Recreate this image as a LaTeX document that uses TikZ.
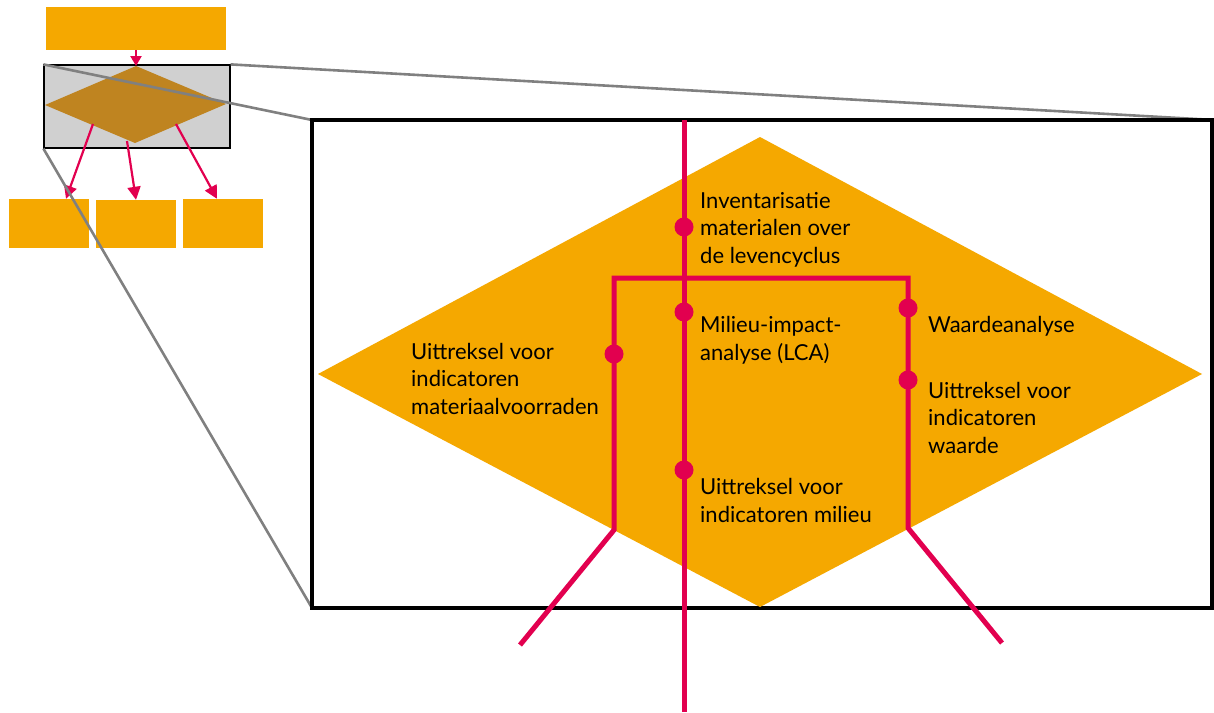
\documentclass[tikz,border=0pt]{standalone}
\usepackage{fontspec}
\setmainfont{Lato}
\usetikzlibrary{arrows.meta}
\definecolor{amber}{HTML}{F5A800}
\definecolor{crimson}{HTML}{E2004F}
\definecolor{bronze}{HTML}{BF8420}
\definecolor{paleg}{HTML}{D0D0D0}
\definecolor{zoomg}{HTML}{808080}
\tikzset{
  block/.style={fill=amber, draw=none, inner sep=0pt},
  flow/.style={crimson, line width=2.2pt, -{Triangle[width=13pt,length=13pt]}},
  track/.style={crimson, line width=5pt},
  stop/.style={circle, fill=crimson, inner sep=0pt, minimum size=19pt},
  zoomline/.style={zoomg, line width=2.6pt},
  % labels are anchored on the baseline of their last line
  lbl/.style={anchor=base west, inner sep=0pt, align=left, font=\fontsize{22}{27.5}\selectfont},
}
\begin{document}
\begin{tikzpicture}[x=1pt, y=-1pt]
\useasboundingbox (0,0) rectangle (1214,712);

% overview: small flow chart
\node[block, minimum width=180pt, minimum height=43pt] (topbox) at (136,28.5) {};
\node[fill=paleg, draw=black, line width=1.2pt, minimum width=186pt, minimum height=83pt, inner sep=0pt] (frame) at (137,106.5) {};
\fill[bronze] (136,66) coordinate (dt) -- (226,104) -- (135,143) coordinate (db) -- (45,105) -- cycle;
\coordinate (dl) at (93,124);
\coordinate (dr) at (176,124);
\node[block, minimum width=80pt, minimum height=49pt] (b1) at (49,223.5) {};
\node[block, minimum width=80pt, minimum height=48pt] (b2) at (136,224) {};
\node[block, minimum width=80pt, minimum height=49pt] (b3) at (223,223.5) {};
\draw[crimson, line width=2.2pt, -{Triangle[width=11pt,length=10pt]}] (topbox.south) -- (dt);
\draw[flow] (dl) -- (b1.north -| 66,0);
\draw[flow] (127,141) -- (b2.north);
\draw[flow] (dr) -- (b3.north -| 217,0);

% detail frame
\coordinate (BTL) at (312,120);
\coordinate (BTR) at (1214,120);
\coordinate (BBL) at (312,608);
\draw[zoomline] (frame.north west) -- (BTL);
\draw[zoomline] (frame.north east) -- (BTR);
\draw[zoomline] (frame.south west) -- (BBL);
\draw[black, line width=4pt, fill=white] (312,120) rectangle (1212,608);
\fill[amber] (760,137) -- (1202,374) -- (760,607) -- (318,374) -- cycle;

% process tracks
\coordinate (mtop) at (684,120);
\coordinate (mbot) at (684,712);
\coordinate (jl) at (614,278);
\coordinate (jr) at (908,278);
\coordinate (kl) at (614,530);
\coordinate (kr) at (908,528);
\coordinate (el) at (520,645);
\coordinate (er) at (1002,643);
\draw[track] (mtop) -- (mbot);
\draw[track, line join=miter] (el) -- (kl) -- (jl) -- (jr) -- (kr) -- (er);

\node[stop] (s1) at (684,227) {};
\node[stop] (s2) at (684,312) {};
\node[stop] (s3) at (684,470) {};
\node[stop] (s4) at (614,354) {};
\node[stop] (s5) at (908,308) {};
\node[stop] (s6) at (908,380) {};

\node[lbl] (t1) at (700,263) {Inventarisatie\\materialen over\\de levencyclus};
\node[lbl] (t2) at (700,360) {Milieu-impact-\\analyse (LCA)};
\node[lbl] (t3) at (700,522) {Uittreksel voor\\indicatoren milieu};
\node[lbl] (t4) at (411,414) {Uittreksel voor\\indicatoren\\materiaalvoorraden};
\node[lbl] (t5) at (928,332) {Waardeanalyse};
\node[lbl] (t6) at (928,453) {Uittreksel voor\\indicatoren\\waarde};
\end{tikzpicture}
\end{document}
